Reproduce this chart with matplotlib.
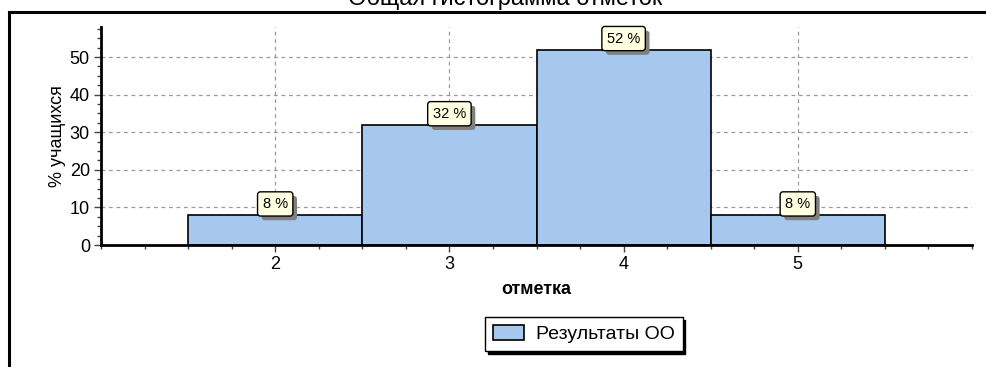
import matplotlib
matplotlib.use("Agg")
import matplotlib.pyplot as plt
import matplotlib.patheffects as pe
from matplotlib.lines import Line2D
from matplotlib.patches import Patch
from matplotlib.ticker import MultipleLocator

plt.rcParams['font.family'] = ['Liberation Sans', 'DejaVu Sans']

# Grade distribution
grades = [2, 3, 4, 5]
shares = [8, 32, 52, 8]
labels = ["8 %", "32 %", "52 %", "8 %"]
yticks = [0, 10, 20, 30, 40, 50]

title = "Общая гистограмма отметок"
ylabel = "% учащихся"
xlabel = "отметка"
series_name = "Результаты ОО"

W, H, DPI = 987, 367, 100
fig = plt.figure(figsize=(W / DPI, H / DPI), dpi=DPI)
fig.patch.set_facecolor("white")

ax = fig.add_axes([101 / W, 1 - 245 / H, (972 - 101) / W, (245 - 27) / H])

bar_color = "#A6C8EE"
ax.bar(grades, shares, width=1.0, color=bar_color, edgecolor="black",
       linewidth=1.2, zorder=3)

ax.set_xlim(1.0, 6.0)
ax.set_ylim(0, 58)
ax.set_xticks(grades)
ax.set_yticks(yticks)
ax.xaxis.set_minor_locator(MultipleLocator(0.25))
ax.yaxis.set_minor_locator(MultipleLocator(2.5))

ax.grid(True, which="major", linestyle=(0, (3, 3)), color="#9A9A9A",
        linewidth=0.9, zorder=0)
ax.set_axisbelow(True)

for side in ("top", "right"):
    ax.spines[side].set_visible(False)
for side in ("left", "bottom"):
    ax.spines[side].set_linewidth(2.0)
    ax.spines[side].set_zorder(4)

ax.tick_params(which="major", direction="out", length=5, width=1,
               color="#444444", labelsize=13, pad=3)
ax.tick_params(which="minor", direction="out", length=3, width=1,
               color="#444444")

ax.set_ylabel(ylabel, fontsize=13, labelpad=3)
ax.set_xlabel(xlabel, fontsize=13, fontweight="bold", labelpad=6)

# Value tags above bars, each box with a grey drop shadow
for g, v, lab in zip(grades, shares, labels):
    tag = ax.annotate(lab, xy=(g, v), xytext=(0, 11),
                      textcoords="offset pixels", ha="center", va="center",
                      fontsize=10.5, color="black",
                      bbox=dict(boxstyle="round,pad=0.35,rounding_size=0.2",
                                fc="#FFFFE1", ec="black", lw=1), zorder=6)
    tag.get_bbox_patch().set_path_effects([
        pe.SimplePatchShadow(offset=(3, -3), shadow_rgbFace="#808080",
                             alpha=1.0),
        pe.Normal(),
    ])

# Legend
handle = Patch(facecolor=bar_color, edgecolor="black", linewidth=1.2)
leg = fig.legend([handle], [series_name], loc="center",
                 bbox_to_anchor=(584 / W, 1 - 334 / H),
                 fontsize=14, frameon=True, fancybox=False,
                 shadow={"color": "black", "alpha": 1.0},
                 edgecolor="black", borderpad=0.4, handlelength=1.6,
                 handleheight=0.8, handletextpad=0.6)
leg.get_frame().set_linewidth(1.0)

# Frame lines and clipped title
fig.add_artist(Line2D([9 / W, 9 / W], [0, 1 - 12 / H], color="black",
                      linewidth=2.2, transform=fig.transFigure))
fig.add_artist(Line2D([9 / W, 1], [1 - 12 / H, 1 - 12 / H], color="black",
                      linewidth=2.2, transform=fig.transFigure))
fig.text(505 / W, 1 - 5.5 / H, title, ha="center", va="baseline",
         fontsize=17)

fig.savefig("out.png", dpi=DPI)
